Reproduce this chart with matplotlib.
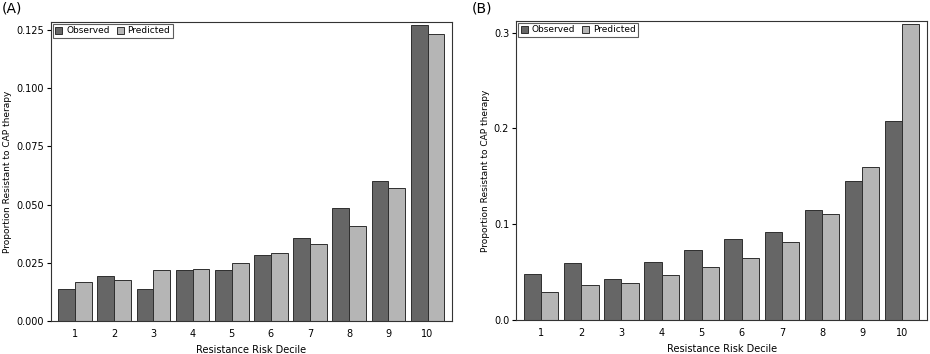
import matplotlib
matplotlib.use("Agg")
import matplotlib.pyplot as plt
import numpy as np

deciles = [1, 2, 3, 4, 5, 6, 7, 8, 9, 10]
obs_a = [0.0139, 0.0192, 0.0139, 0.0219, 0.0219, 0.0285, 0.0358, 0.0485, 0.0600, 0.1273]
pred_a = [0.0168, 0.0176, 0.0219, 0.0222, 0.0248, 0.0294, 0.0329, 0.0410, 0.0570, 0.1233]
obs_b = [0.0481, 0.0592, 0.0425, 0.0603, 0.0735, 0.0850, 0.0923, 0.1150, 0.1453, 0.2080]
pred_b = [0.0289, 0.0366, 0.0390, 0.0467, 0.0551, 0.0645, 0.0815, 0.1108, 0.1592, 0.3094]
yticks_a = [0.0, 0.025, 0.05, 0.075, 0.1, 0.125]
ytick_labels_a = ["0.000", "0.025", "0.050", "0.075", "0.100", "0.125"]
yticks_b = [0.0, 0.1, 0.2, 0.3]
ytick_labels_b = ["0.0", "0.1", "0.2", "0.3"]

DARK = "#666666"
LIGHT = "#b5b5b5"
EDGE = "#2e2e2e"

fig = plt.figure(figsize=(9.3, 3.54), dpi=100)
fig.patch.set_facecolor("white")

def panel(rect, obs, pred, yticks, ylabels, ytop, letter):
    ax = fig.add_axes(rect)
    x = np.array(deciles, dtype=float)
    w = 0.43
    ax.bar(x - w / 2, obs, width=w, color=DARK, edgecolor=EDGE, linewidth=0.7, label="Observed")
    ax.bar(x + w / 2, pred, width=w, color=LIGHT, edgecolor=EDGE, linewidth=0.7, label="Predicted")
    ax.set_xlim(0.375, 10.625)
    ax.set_ylim(0, ytop)
    ax.set_xticks(deciles)
    ax.set_xticklabels([str(d) for d in deciles], fontsize=7)
    ax.set_yticks(yticks)
    ax.set_yticklabels(ylabels, fontsize=7)
    ax.tick_params(axis="x", length=0, pad=6)
    ax.tick_params(axis="y", length=3, width=0.8, direction="out", pad=2)
    for s in ax.spines.values():
        s.set_linewidth(0.8)
        s.set_color("#333333")
    ax.set_xlabel("Resistance Risk Decile", fontsize=7, labelpad=4)
    ax.set_ylabel("Proportion Resistant to CAP therapy", fontsize=6.5, labelpad=3)
    leg = ax.legend(loc="upper left", ncol=2, fontsize=6.5, frameon=True, fancybox=False,
                    handlelength=0.8, handleheight=0.8, handletextpad=0.4, columnspacing=0.8,
                    borderpad=0.25, borderaxespad=0.25)
    leg.get_frame().set_edgecolor("#333333")
    leg.get_frame().set_linewidth(0.8)
    return ax

panel([0.0545, 0.0932, 0.4315, 0.8448], obs_a, pred_a, yticks_a, ytick_labels_a, 0.1284, "(A)")
panel([0.555, 0.096, 0.442, 0.845], obs_b, pred_b, yticks_b, ytick_labels_b, 0.3122, "(B)")

fig.text(0.002, 0.995, "(A)", fontsize=10, ha="left", va="top")
fig.text(0.507, 0.995, "(B)", fontsize=10, ha="left", va="top")

fig.savefig("out.png", dpi=100, facecolor="white")
